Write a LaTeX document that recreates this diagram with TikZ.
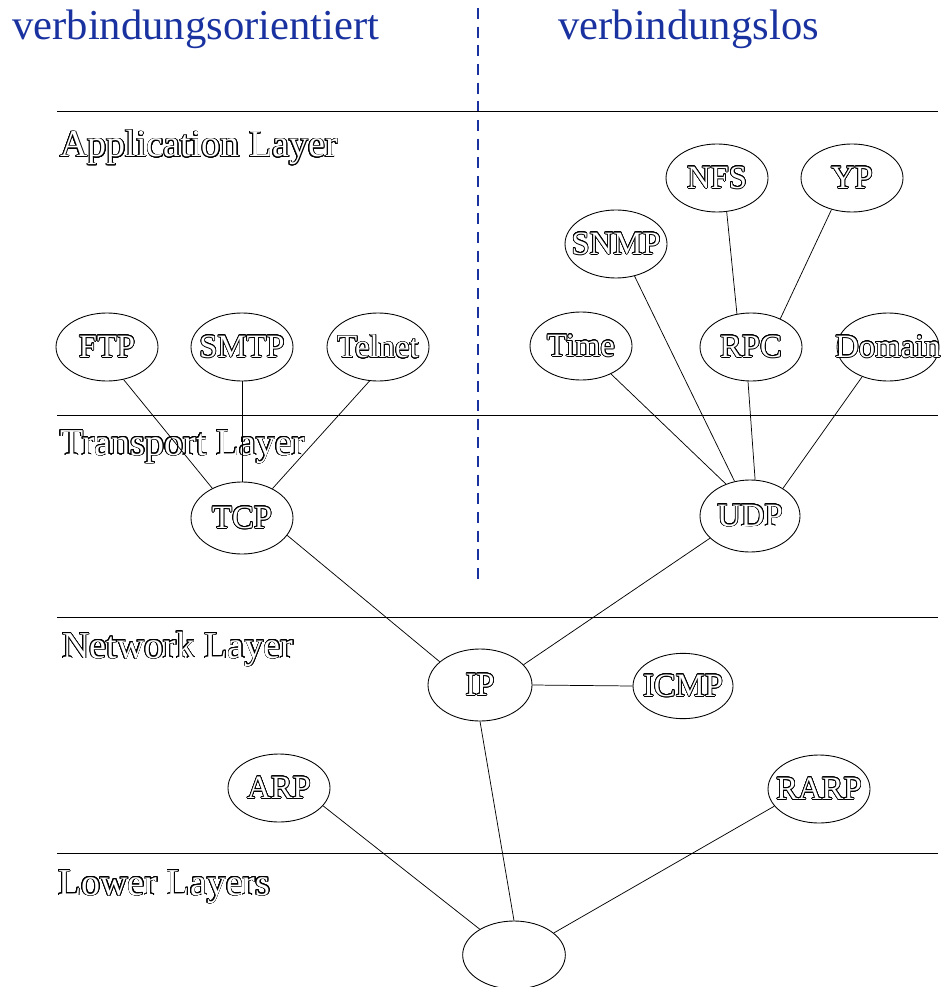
\documentclass[tikz,border=0pt]{standalone}
\usepackage{fontspec}
\setmainfont{Liberation Serif}
\usepackage{contour}
\contourlength{0.55pt}
\contournumber{24}
\usetikzlibrary{shapes.geometric}
\definecolor{titleblue}{RGB}{25,50,160}
\newcommand{\olt}[1]{{\color{white}\contour{black}{#1}}}
\newcommand{\plbl}[1]{\makebox[0pt]{\olt{#1}}}
\begin{document}
\begin{tikzpicture}[x=0.75pt,y=-0.75pt,
 proto/.style={ellipse, draw, line width=0.65pt, inner sep=0pt, minimum width=76.5pt, minimum height=51pt, font=\fontsize{24.5}{24.5}\selectfont},
 layerline/.style={line width=0.65pt},
 link/.style={line width=0.55pt},
 layerlabel/.style={anchor=base west, inner sep=0pt, font=\fontsize{28.5}{28.5}\selectfont},
 titletext/.style={anchor=base west, inner sep=0pt, text=titleblue, font=\fontsize{32}{32}\selectfont}]
\useasboundingbox (0,0) rectangle (946,987);
\clip (0,0) rectangle (946,987);

% titles and divider
\node[titletext] (t1) at (12,40) {verbindungsorientiert};
\node[titletext] (t2) at (558,40) {verbindungslos};
\coordinate (d1) at (478,8);
\coordinate (d2) at (478,580);
\draw[titleblue, line width=1.5pt, dash pattern=on 8.25pt off 5.75pt] (d1) -- (d2);

% layer lines
\coordinate (l1a) at (57,111); \coordinate (l1b) at (938,111);
\coordinate (l2a) at (57,415); \coordinate (l2b) at (938,415);
\coordinate (l3a) at (57,617); \coordinate (l3b) at (938,617);
\coordinate (l4a) at (57,853); \coordinate (l4b) at (938,853);
\draw[layerline] (l1a) -- (l1b);
\draw[layerline] (l2a) -- (l2b);
\draw[layerline] (l3a) -- (l3b);
\draw[layerline] (l4a) -- (l4b);

% layer labels
\node[layerlabel] (la) at (60,157) {\olt{Application Layer}};
\node[layerlabel] (lt) at (60,455) {\olt{Transport Layer}};
\node[layerlabel] (ln) at (62,658) {\olt{Network Layer}};
\node[layerlabel] (ll) at (58,895) {\olt{Lower Layers}};

% protocol nodes
\node[proto] (FTP) at (107,347) {\plbl{FTP}};
\node[proto] (SMTP) at (242,347) {\plbl{SMTP}};
\node[proto] (Telnet) at (378,347) {\plbl{Telnet}};
\node[proto, minimum height=54pt] (TCP) at (242,518) {\plbl{TCP}};

\node[proto] (NFS) at (717,178) {\plbl{NFS}};
\node[proto] (YP) at (852,178) {\plbl{YP}};
\node[proto] (SNMP) at (616,244) {\plbl{SNMP}};
\node[proto] (Time) at (581,346) {\plbl{Time}};
\node[proto] (RPC) at (751,347) {\plbl{RPC}};
\node[proto] (Domain) at (888,347) {\plbl{Domain}};
\node[proto, minimum width=75pt, minimum height=54pt] (UDP) at (750,516) {\plbl{UDP}};

\node[proto, minimum width=78pt, minimum height=54pt] (IP) at (480,685) {\plbl{IP}};
\node[proto, minimum width=75pt, minimum height=49pt] (ICMP) at (683,686) {\plbl{ICMP}};

\node[proto] (ARP) at (279,788) {\plbl{ARP}};
\node[proto] (RARP) at (819,789) {\plbl{RARP}};
\node[proto, minimum width=77pt, minimum height=51pt] (LL) at (514,955) {};

% connectors
\draw[link] (FTP.297) -- (TCP.135);
\draw[link] (SMTP.south) -- (TCP.north);
\draw[link] (Telnet.256) -- (TCP.44);
\draw[link] (TCP.339) -- (IP.150);

\draw[link] (NFS.286) -- (RPC.113);
\draw[link] (YP.237) -- (RPC.44);
\draw[link] (SNMP.300) -- (UDP.114);
\draw[link] (Time.317) -- (UDP.127);
\draw[link] (RPC.265) -- (UDP.82);
\draw[link] (Domain.229) -- (UDP.40);
\draw[link] (UDP.209) -- (IP.25);

\draw[link] (IP.east) -- (ICMP.west);
\draw[link] (IP.south) -- (LL.north);
\draw[link] (ARP.338) -- (LL.143);
\draw[link] (RARP.201) -- (LL.29);
\end{tikzpicture}
\end{document}
